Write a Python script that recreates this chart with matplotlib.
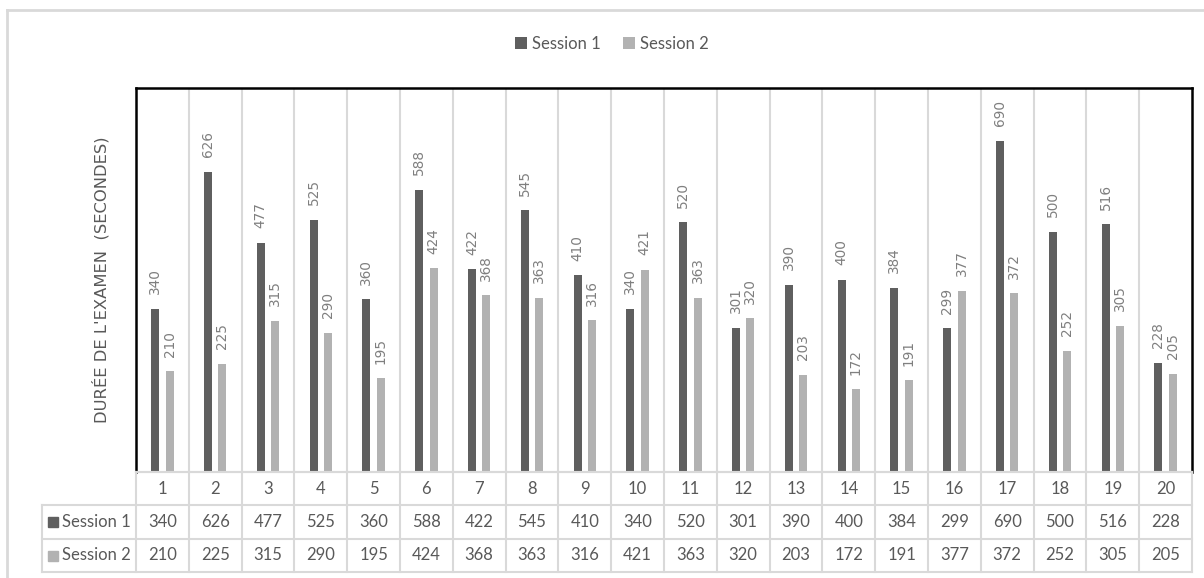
import matplotlib
matplotlib.use("Agg")
import matplotlib.pyplot as plt
from matplotlib.lines import Line2D
from matplotlib.transforms import blended_transform_factory
import numpy as np

categories = [str(i) for i in range(1, 21)]
session1 = [340, 626, 477, 525, 360, 588, 422, 545, 410, 340, 520, 301, 390, 400, 384, 299, 690, 500, 516, 228]
session2 = [210, 225, 315, 290, 195, 424, 368, 363, 316, 421, 363, 320, 203, 172, 191, 377, 372, 252, 305, 205]
series_names = ["Session 1", "Session 2"]
ylabel = "DURÉE DE L'EXAMEN  (SECONDES)"

c1 = "#5f5f5f"
c2 = "#b2b2b2"
grid = "#d9d9d9"
txt = "#595959"
narrow = "Lato"

W, H = 1204, 578
fig = plt.figure(figsize=(W / 100, H / 100), dpi=100)

def fx(px):
    return px / W

def fy(py):
    return 1 - py / H

L, R, T, B = 136, 1192, 88, 472
ax = fig.add_axes([fx(L), fy(B), fx(R) - fx(L), fy(T) - fy(B)])

x = np.arange(len(categories))
bw = 0.15
off = 0.136
b1 = ax.bar(x - off, session1, bw, color=c1, label=series_names[0], zorder=3)
b2 = ax.bar(x + off, session2, bw, color=c2, label=series_names[1], zorder=3)

for bars, vals in ((b1, session1), (b2, session2)):
    for rect, v in zip(bars, vals):
        ax.annotate(str(v), (rect.get_x() + rect.get_width() / 2, v),
                    xytext=(0, 10.5), textcoords="offset points",
                    rotation=90, ha="center", va="bottom",
                    fontsize=9.8, color="#7f7f7f", zorder=4)

ax.set_xlim(-0.5, len(categories) - 0.5)
ax.set_ylim(0, 800)
ax.set_xticks([])
ax.set_yticks([])
for k in np.arange(len(categories) - 1) + 0.5:
    ax.axvline(k, color=grid, lw=1.5, zorder=1)
for s in ("left", "top", "right"):
    ax.spines[s].set_color("black")
    ax.spines[s].set_linewidth(1.8)
ax.spines["bottom"].set_color(grid)
ax.spines["bottom"].set_linewidth(1.5)

# y label
fig.text(fx(101), fy(280), ylabel, rotation=90, ha="center", va="center",
         fontsize=11.8, color=txt)

# outer chart frame
fig.add_artist(Line2D([fx(7), 1], [fy(10), fy(10)], color=grid, lw=2, transform=fig.transFigure))
fig.add_artist(Line2D([fx(7), fx(7)], [fy(10), 0], color=grid, lw=2, transform=fig.transFigure))

# data table
bt = blended_transform_factory(ax.transData, fig.transFigure)
rows_y = [472, 505, 539, 572]
fig.add_artist(Line2D([fx(L), fx(R)], [fy(rows_y[0])] * 2, color=grid, lw=1.5, transform=fig.transFigure))
for yy in rows_y[1:]:
    fig.add_artist(Line2D([fx(42), fx(R)], [fy(yy)] * 2, color=grid, lw=1.5, transform=fig.transFigure))
fig.add_artist(Line2D([fx(42), fx(42)], [fy(505), fy(572)], color=grid, lw=1.5, transform=fig.transFigure))
for k in np.arange(len(categories) + 1) - 0.5:
    fig.add_artist(Line2D([k, k], [fy(472), fy(572)], color=grid, lw=1.5, transform=bt))

tfs = 12
row_centers = [(rows_y[i] + rows_y[i + 1]) / 2 for i in range(3)]
for i, cat in enumerate(categories):
    fig.text(i, fy(row_centers[0]), cat, transform=bt, ha="center", va="center",
             fontsize=tfs, color=txt, family=narrow)
    fig.text(i, fy(row_centers[1]), str(session1[i]), transform=bt, ha="center", va="center",
             fontsize=tfs, color=txt, family=narrow)
    fig.text(i, fy(row_centers[2]), str(session2[i]), transform=bt, ha="center", va="center",
             fontsize=tfs, color=txt, family=narrow)

for j, (nm, col) in enumerate(zip(series_names, (c1, c2))):
    yc = row_centers[j + 1]
    fig.add_artist(plt.Rectangle((fx(48), fy(yc + 5)), fx(10), 10 / H, color=col,
                                 transform=fig.transFigure))
    fig.text(fx(62), fy(yc), nm, ha="left", va="center", fontsize=tfs, color=txt, family=narrow)

# legend
fig.legend(handles=[b1, b2], labels=series_names, loc="center", bbox_to_anchor=(fx(612), fy(44)),
           ncol=2, frameon=False, handlelength=0.75, handleheight=0.75, handletextpad=0.3,
           columnspacing=1.3, prop={"family": narrow, "size": tfs}, labelcolor=txt)

fig.savefig("out.png", dpi=100, facecolor="white")
